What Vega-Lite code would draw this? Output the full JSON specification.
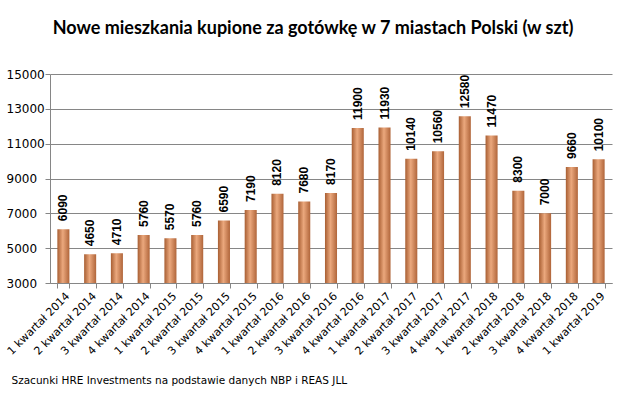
{
  "$schema": "https://vega.github.io/schema/vega-lite/v6.json",
  "width": 562,
  "height": 209,
  "autosize": "none",
  "padding": {"left": 50, "top": 74, "right": 14, "bottom": 115},
  "background": "white",
  "title": {
    "text": "Nowe mieszkania kupione za gotówkę w 7 miastach Polski (w szt)",
    "font": "Lato",
    "fontSize": 18,
    "fontWeight": "bold",
    "color": "#000000",
    "anchor": "middle",
    "dx": -18,
    "offset": 30
  },
  "config": {
    "view": {"stroke": null},
    "axis": {"labelColor": "#000000", "domainColor": "#868686", "tickColor": "#868686", "gridColor": "#868686"}
  },
  "data": {
    "values": [
      {"q": "1 kwartał 2014", "v": 6090},
      {"q": "2 kwartał 2014", "v": 4650},
      {"q": "3 kwartał 2014", "v": 4710},
      {"q": "4 kwartał 2014", "v": 5760},
      {"q": "1 kwartał 2015", "v": 5570},
      {"q": "2 kwartał 2015", "v": 5760},
      {"q": "3 kwartał 2015", "v": 6590},
      {"q": "4 kwartał 2015", "v": 7190},
      {"q": "1 kwartał 2016", "v": 8120},
      {"q": "2 kwartał 2016", "v": 7680},
      {"q": "3 kwartał 2016", "v": 8170},
      {"q": "4 kwartał 2016", "v": 11900},
      {"q": "1 kwartał 2017", "v": 11930},
      {"q": "2 kwartał 2017", "v": 10140},
      {"q": "3 kwartał 2017", "v": 10560},
      {"q": "4 kwartał 2017", "v": 12580},
      {"q": "1 kwartał 2018", "v": 11470},
      {"q": "2 kwartał 2018", "v": 8300},
      {"q": "3 kwartał 2018", "v": 7000},
      {"q": "4 kwartał 2018", "v": 9660},
      {"q": "1 kwartał 2019", "v": 10100}
    ]
  },
  "encoding": {
    "x": {
      "field": "q", "type": "nominal", "sort": null,
      "scale": {"paddingInner": 0.55, "paddingOuter": 0.275},
      "axis": {
        "title": "Szacunki HRE Investments na podstawie danych NBP i REAS JLL",
        "titleFont": "DejaVu Sans", "titleFontSize": 10.5, "titleFontWeight": "normal",
        "titleAnchor": "start", "titleAlign": "left", "titleBaseline": "middle",
        "titleX": -39, "titleY": 97, "titleColor": "#000000",
        "labelAngle": -45, "labelAlign": "right", "labelBaseline": "top",
        "labelFont": "DejaVu Sans", "labelFontSize": 11, "labelPadding": 2,
        "tickBand": "extent", "tickSize": 5, "domain": true, "grid": false
      }
    },
    "y": {
      "field": "v", "type": "quantitative",
      "scale": {"domain": [3000, 15000], "nice": false},
      "axis": {
        "title": null, "values": [3000, 5000, 7000, 9000, 11000, 13000, 15000], "format": "d",
        "labelFont": "DejaVu Sans", "labelFontSize": 12, "labelAlign": "left",
        "labelPadding": 39, "tickSize": 5, "grid": true, "domain": true
      }
    }
  },
  "layer": [
    {
      "mark": {
        "type": "bar",
        "clip": true,
        "color": {
          "gradient": "linear", "x1": 0, "x2": 1, "y1": 0, "y2": 0,
          "stops": [
            {"offset": 0, "color": "#A85E32"},
            {"offset": 0.45, "color": "#EBA87D"},
            {"offset": 1, "color": "#B0653A"}
          ]
        }
      }
    },
    {
      "mark": {"type": "text", "angle": 270, "align": "left", "baseline": "middle", "dx": 8, "font": "Liberation Sans", "fontSize": 12, "fontWeight": "bold", "color": "#000000"},
      "encoding": {"text": {"field": "v", "type": "quantitative", "format": "d"}}
    }
  ]
}
